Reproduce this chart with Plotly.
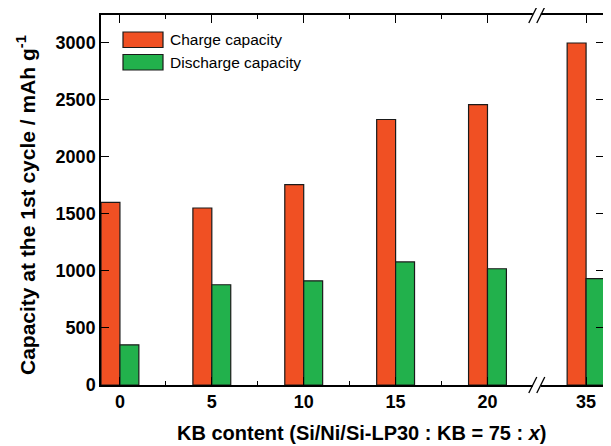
import plotly.graph_objects as go

# ---- data ----
kb_content = ["0", "5", "10", "15", "20", "35"]
charge_capacity = [1600, 1550, 1755, 2325, 2455, 2995]
discharge_capacity = [352, 878, 912, 1078, 1018, 932]

# broken axis: categories after the break are shifted by a small extra gap
break_after_index = 4
break_extra_gap = 0.073
x_pos = [i + (break_extra_gap if i > break_after_index else 0) for i in range(len(kb_content))]
minor_x = [i + 0.5 for i in range(break_after_index)]
break_x = (x_pos[break_after_index] + x_pos[break_after_index + 1]) / 2

y_ticks = [0, 500, 1000, 1500, 2000, 2500, 3000]

ORANGE = "#F05023"
GREEN = "#22B14C"
FONT = "Arial, 'Liberation Sans', sans-serif"
bw = 0.206

fig = go.Figure()
fig.add_trace(go.Bar(x=x_pos, y=charge_capacity, name="Charge capacity",
                     width=bw, offset=-bw,
                     marker=dict(color=ORANGE, line=dict(color="#1a1a1a", width=1.2)),
                     showlegend=False))
fig.add_trace(go.Bar(x=x_pos, y=discharge_capacity, name="Discharge capacity",
                     width=bw, offset=0,
                     marker=dict(color=GREEN, line=dict(color="#1a1a1a", width=1.2)),
                     showlegend=False))

# page has an 8px body margin, so the figure is sized/positioned to compensate
fig.update_layout(
    width=603, height=438,
    margin=dict(l=93, r=5, t=7, b=61),
    plot_bgcolor="white", paper_bgcolor="white",
    font=dict(family=FONT, color="black"),
    barmode="overlay",
    xaxis=dict(range=[-0.206, 5.268], tickvals=x_pos, ticktext=kb_content,
               ticks="inside", ticklen=8, tickwidth=1.2, tickcolor="black",
               showline=True, linecolor="black", linewidth=1.5, mirror="ticks",
               showgrid=False, zeroline=False,
               tickfont=dict(size=18, family=FONT, weight="bold"),
               minor=dict(tickvals=minor_x, ticks="inside", ticklen=4,
                          tickwidth=1.2, tickcolor="black", showgrid=False)),
    yaxis=dict(range=[0, 3240], tickvals=y_ticks,
               ticks="inside", ticklen=8, tickwidth=1.2, tickcolor="black",
               showline=True, linecolor="black", linewidth=1.5, mirror="ticks",
               showgrid=False, zeroline=False,
               tickfont=dict(size=18, family=FONT, weight="bold")),
)

# axis titles
fig.add_annotation(text="KB content (Si/Ni/Si-LP30 : KB = 75 : <i>x</i>)",
                   xref="paper", yref="paper", x=0.519, y=0, yshift=-48,
                   xanchor="center", yanchor="middle", showarrow=False,
                   font=dict(size=20, family=FONT, weight="bold"))
fig.add_annotation(text="Capacity at the 1st cycle / mAh g<sup>-1</sup>",
                   xref="paper", yref="paper", x=0, y=0.5, xshift=-75, yshift=-5,
                   xanchor="center", yanchor="middle", textangle=-90, showarrow=False,
                   font=dict(size=21, family=FONT, weight="bold"))

# legend drawn manually (large rectangles)
legend_items = [("Charge capacity", ORANGE), ("Discharge capacity", GREEN)]
for k, (label, col) in enumerate(legend_items):
    ytop = -17 - 22.5 * k
    fig.add_shape(type="rect", xref="paper", yref="paper",
                  xsizemode="pixel", ysizemode="pixel", xanchor=0, yanchor=1,
                  x0=22, x1=62, y0=ytop, y1=ytop - 15.5,
                  fillcolor=col, line=dict(color="#1a1a1a", width=1.2))
    fig.add_annotation(text=label, xref="paper", yref="paper", x=0, y=1,
                       xshift=67, yshift=ytop - 7.75, xanchor="left", yanchor="middle",
                       showarrow=False, font=dict(size=15.5, family=FONT))

# axis break marks (top and bottom)
for yv in (0, 1):
    fig.add_shape(type="rect", xref="x", yref="paper", xsizemode="pixel",
                  ysizemode="pixel", xanchor=break_x, yanchor=yv,
                  x0=-4, x1=4, y0=-2, y1=2, fillcolor="white",
                  line=dict(width=0), layer="above")
    for dx in (-4, 4):
        fig.add_shape(type="line", xref="x", yref="paper", xsizemode="pixel",
                      ysizemode="pixel", xanchor=break_x, yanchor=yv,
                      x0=dx - 4, x1=dx + 4, y0=-8, y1=8,
                      line=dict(color="black", width=1.3), layer="above")

fig.write_html("out.html")
